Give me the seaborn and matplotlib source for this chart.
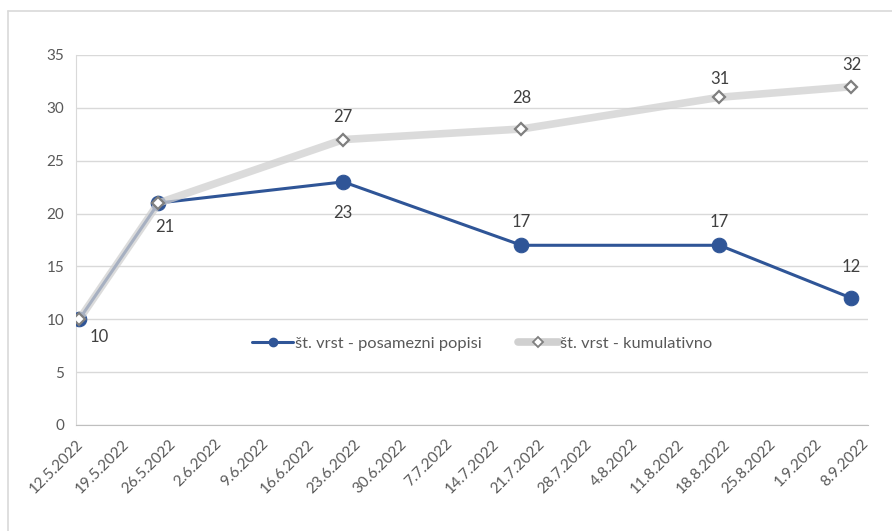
import pandas as pd
import matplotlib.pyplot as plt
import seaborn as sns
from matplotlib.lines import Line2D

# podatki
datumi = ["2022-05-12", "2022-05-24", "2022-06-21", "2022-07-18", "2022-08-17", "2022-09-06"]
posamezni = [10, 21, 23, 17, 17, 12]
kumulativno = [10, 21, 27, 28, 31, 32]
kum_oznake = [None, None, 27, 28, 31, 32]

ime1 = "št. vrst - posamezni popisi"
ime2 = "št. vrst - kumulativno"

# odmiki oznak v pikslih (kot v Excelu)
pos_odmik = [(20, -18), (6, -24), (0, -31), (0, 23), (0, 23), (0, 31)]
kum_odmik = [None, None, (0, 23), (0, 31), (0, 18), (0, 22)]

# Excel postavi točke na sredino dneva
x = pd.to_datetime(datumi) + pd.Timedelta(hours=12)
df = pd.DataFrame({"datum": x, ime1: posamezni, ime2: kumulativno})

sns.set_style("white")
plt.rcParams["font.family"] = ["Lato", "DejaVu Sans"]

MODRA = "#2F5597"
SIVA = "#D0D0D0"
TEXT = "#595959"

fig = plt.figure(figsize=(8.92, 5.31), dpi=100)
ax = fig.add_axes([76 / 892, 1 - 425 / 531, (868 - 76) / 892, (425 - 55) / 531])

# okvir slike (levo in zgoraj)
fig.add_artist(Line2D([8 / 892, 8 / 892], [0, 1 - 11 / 531], transform=fig.transFigure, color="#D9D9D9", lw=1.2))
fig.add_artist(Line2D([8 / 892, 1], [1 - 11 / 531, 1 - 11 / 531], transform=fig.transFigure, color="#D9D9D9", lw=1.2))

sns.lineplot(data=df, x="datum", y=ime1, ax=ax, color=MODRA, lw=2.2, marker="o",
             markersize=10.5, markeredgecolor=MODRA, zorder=3, legend=False)
sns.lineplot(data=df, x="datum", y=ime2, ax=ax, color=SIVA, lw=5.5, alpha=0.75,
             zorder=4, legend=False)
ax.plot(df["datum"], df[ime2], ls="none", marker="D", markersize=6.5,
        markerfacecolor="white", markeredgecolor="#7F7F7F", markeredgewidth=1.6, zorder=5)

# oznake
for xi, v, off in zip(x, posamezni, pos_odmik):
    ax.annotate(str(v), (xi, v), xytext=off, textcoords="offset pixels",
                ha="center", va="center", fontsize=12, color="#404040")
for xi, v, off in zip(x, kum_oznake, kum_odmik):
    if v is not None:
        ax.annotate(str(v), (xi, v), xytext=off, textcoords="offset pixels",
                    ha="center", va="center", fontsize=12, color="#404040")

# osi
ax.set_ylim(0, 35)
ax.set_yticks(range(0, 36, 5))
ax.set_xlim(pd.Timestamp("2022-05-12"), pd.Timestamp("2022-09-09"))
tiki = pd.date_range("2022-05-12", "2022-09-08", freq="7D")
ax.set_xticks(tiki)
ax.set_xticklabels([f"{d.day}.{d.month}.{d.year}" for d in tiki], rotation=45,
                   ha="right", rotation_mode="anchor")
ax.tick_params(axis="both", labelsize=11, colors=TEXT, length=5, width=1)
ax.tick_params(axis="x", color="#BFBFBF")
ax.tick_params(axis="y", color="#D9D9D9", length=5)
ax.set_xlabel("")
ax.set_ylabel("")
ax.grid(axis="y", color="#D9D9D9", lw=1)
ax.set_axisbelow(True)
for s in ["top", "right"]:
    ax.spines[s].set_visible(False)
ax.spines["bottom"].set_color("#BFBFBF")
ax.spines["left"].set_color("#D9D9D9")

# legenda
h1 = Line2D([], [], color=MODRA, lw=2.2, marker="o", markersize=6)
h2 = Line2D([], [], color=SIVA, lw=5.5, marker="D", markersize=5,
            markerfacecolor="white", markeredgecolor="#7F7F7F", markeredgewidth=1.3)
ax.legend([h1, h2], [ime1, ime2], loc="center", bbox_to_anchor=(0.513, 0.22), ncol=2,
          frameon=False, fontsize=11.8, labelcolor=TEXT, handlelength=2.5,
          handletextpad=0.1, columnspacing=2.2)

fig.savefig("out.png", dpi=100)
